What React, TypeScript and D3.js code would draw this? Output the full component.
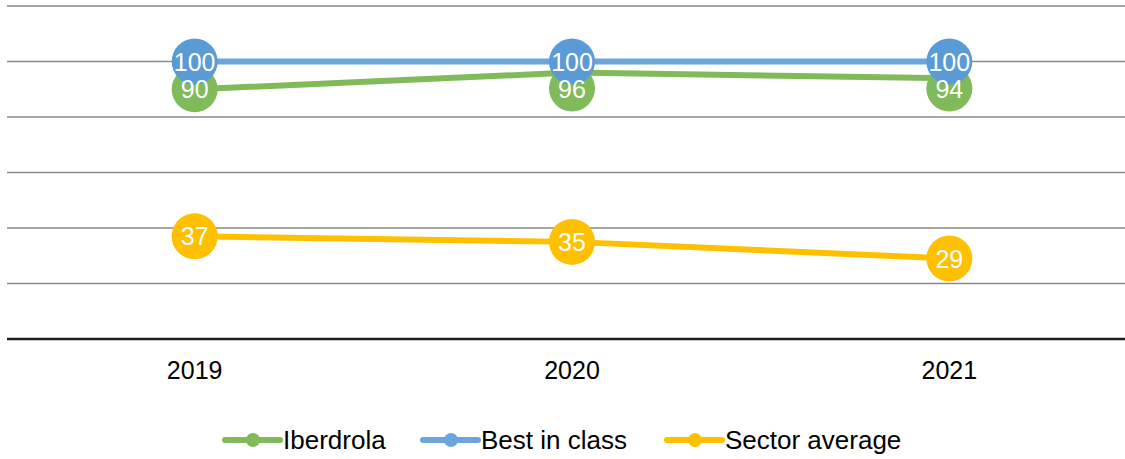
import { line, scaleLinear, scalePoint } from "d3";

const years = ["2019", "2020", "2021"];
const iberdrola = [90, 96, 94];
const bestInClass = [100, 100, 100];
const sectorAverage = [37, 35, 29];
const yTicks = [0, 20, 40, 60, 80, 100, 120];

const series = [
  { name: "Iberdrola", values: iberdrola, color: "#80BA5A", lineColor: "#80BA5A" },
  { name: "Best in class", values: bestInClass, color: "#5B9BD5", lineColor: "#6AA6DC" },
  { name: "Sector average", values: sectorAverage, color: "#FFC000", lineColor: "#FFC000" },
];

const W = 1125;
const H = 459;
const FONT = "'Liberation Sans', Arial, sans-serif";
const R = 23;

export default function App() {
  const x = scalePoint<string>().domain(years).range([6, 1138]).padding(0.5);
  const y = scaleLinear().domain([0, 120]).range([339, 6]);

  const path = line<number>()
    .x((_, i) => x(years[i]) ?? 0)
    .y((d) => y(d));

  // label bubbles: Iberdrola gets pushed under the best-in-class bubble when they collide
  const labelY = (si: number, i: number) => {
    const own = y(series[si].values[i]);
    if (si !== 0) return own;
    const other = y(bestInClass[i]);
    return own - other < 27 ? other + 27 : own;
  };
  const drawOrder = [0, 2, 1];

  const legendX = [222, 420, 664];

  return (
    <svg
      width={W}
      height={H}
      style={{ position: "absolute", left: 0, top: 0, background: "#fff" }}
      fontFamily={FONT}
    >
      {yTicks.slice(1).map((t) => (
        <line key={t} x1={7} x2={W} y1={y(t)} y2={y(t)} stroke="#8a8a8a" strokeWidth={1.5} />
      ))}
      <line x1={7} x2={W} y1={y(0)} y2={y(0)} stroke="#1c1c1c" strokeWidth={2.5} />

      {years.map((yr) => (
        <text key={yr} x={x(yr)} y={379} textAnchor="middle" fontSize={25} fill="#000">
          {yr}
        </text>
      ))}

      {series.map((s) => (
        <path
          key={s.name}
          d={path(s.values) ?? ""}
          fill="none"
          stroke={s.lineColor}
          strokeWidth={6}
          strokeLinejoin="round"
          strokeLinecap="round"
        />
      ))}

      {drawOrder.map((si) =>
        series[si].values.map((v, i) => (
          <circle
            key={`c${si}-${i}`}
            cx={x(years[i])}
            cy={labelY(si, i)}
            r={R}
            fill={series[si].color}
          />
        ))
      )}
      {drawOrder.map((si) =>
        series[si].values.map((v, i) => (
          <text
            key={`t${si}-${i}`}
            x={x(years[i])}
            y={labelY(si, i) + 9}
            textAnchor="middle"
            fontSize={25}
            fill="#fff"
          >
            {v}
          </text>
        ))
      )}

      {series.map((s, i) => (
        <g key={s.name} transform={`translate(${legendX[i]},440)`}>
          <line x1={3} x2={58} y1={0} y2={0} stroke={s.lineColor} strokeWidth={6} strokeLinecap="round" />
          <circle cx={31} cy={0} r={7} fill={s.lineColor} />
          <text x={61} y={9} fontSize={26} fill="#000">
            {s.name}
          </text>
        </g>
      ))}
    </svg>
  );
}
